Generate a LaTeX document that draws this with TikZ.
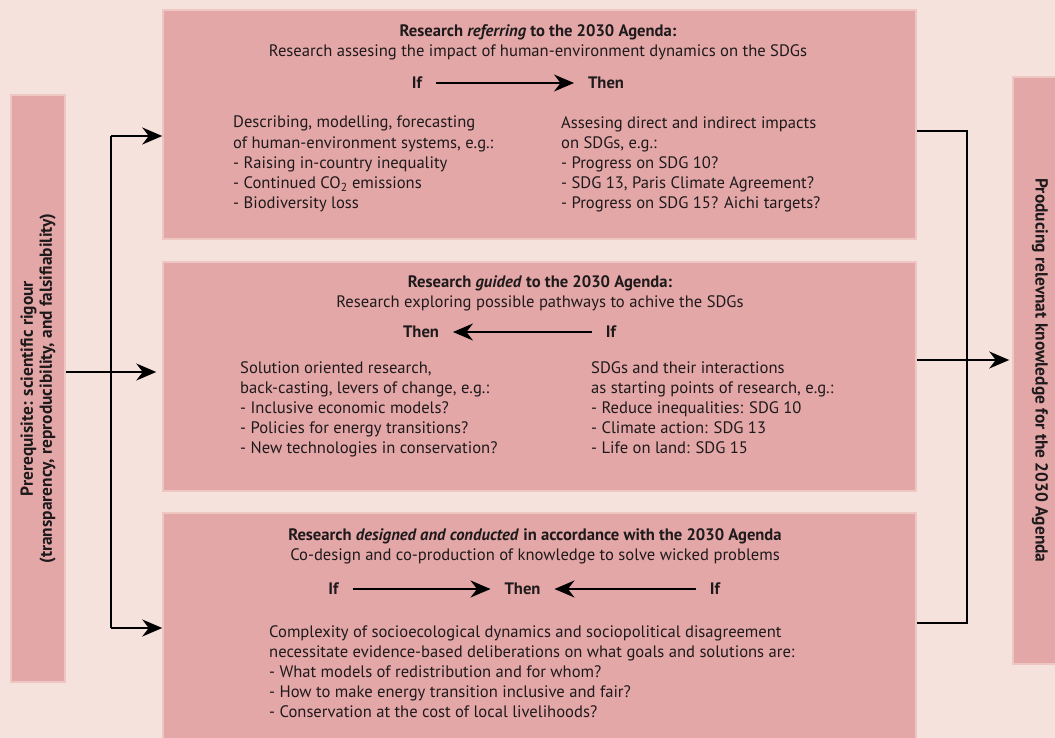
\documentclass[tikz,border=0pt]{standalone}
\usepackage{fontspec}
\setmainfont{PT Sans}
\usetikzlibrary{arrows.meta}

\definecolor{bgpink}{RGB}{245,226,220}
\definecolor{boxpink}{RGB}{228,167,168}
\definecolor{rimpink}{RGB}{238,198,194}
\definecolor{ink}{RGB}{30,26,27}

% Font used in all the boxes
\newcommand{\boxfont}{\fontsize{16.6}{20.2}\selectfont}
\newcommand{\sidefont}{\fontsize{17.4}{19}\selectfont}

\begin{document}
\begin{tikzpicture}[x=1pt, y=-1pt,
    every node/.style={text=ink, font=\boxfont},
    resbox/.style={rectangle, fill=boxpink, draw=rimpink, line width=1.5pt, inner sep=0pt},
    sidebox/.style={resbox, align=center, font={\sidefont\bfseries}},
    head/.style={align=center, inner sep=0pt},
    col/.style={anchor=north west, align=left, inner sep=0pt},
    cue/.style={inner sep=0pt, outer sep=14pt, font={\boxfont\bfseries}},
    flow/.style={line width=1.6pt, -{Stealth[length=20pt, width=17pt]}},
    link/.style={line width=1.6pt}]

        % Background and page size
        \useasboundingbox (0,0) rectangle (1055,738);
        \fill[bgpink] (0,0) rectangle (1055,738);

        % Draw the three research boxes
        \node[resbox, minimum width=753pt, minimum height=229pt] (box1) at (539.5,124.5) {};
        \node[resbox, minimum width=753pt, minimum height=229pt] (box2) at (539.5,376.5) {};
        \node[resbox, minimum width=753pt, minimum height=235pt] (box3) at (539.5,630.5) {};

        % Draw the side boxes
        \node[sidebox, rotate=90, minimum width=587pt, minimum height=54pt] (pre) at (38,388.5)
          {Prerequisite: scientific rigour\\(transparency, reproducibility, and falsifiability)};
        \node[sidebox, rotate=-90, minimum width=587pt, minimum height=54pt] (out) at (1040,370.5)
          {Producing relevnat knowledge for the 2030 Agenda};

        % Box 1: referring
        \node[head] (head1) at (538,42.5)
          {\textbf{Research \textit{referring} to the 2030 Agenda:}\\Research assesing the impact of human-environment dynamics on the SDGs};
        \node[cue] (if1) at (417,83) {If};
        \node[cue] (then1) at (606,83) {Then};
        \draw[flow] (if1) -- (then1);
        \node[col] (left1) at (233,116)
          {Describing, modelling, forecasting\\of human-environment systems, e.g.:\\- Raising in-country inequality\\- Continued CO\textsubscript{2} emissions\\- Biodiversity loss};
        \node[col] (right1) at (561,116)
          {Assesing direct and indirect impacts\\on SDGs, e.g.:\\- Progress on SDG 10?\\- SDG 13, Paris Climate Agreement?\\- Progress on SDG 15? Aichi targets?};

        % Box 2: guided
        \node[head] (head2) at (540,293)
          {\textbf{Research \textit{guided} to the 2030 Agenda:}\\Research exploring possible pathways to achive the SDGs};
        \node[cue] (then2) at (421,332) {Then};
        \node[cue] (if2) at (611,332) {If};
        \draw[flow] (if2) -- (then2);
        \node[col] (left2) at (240,361)
          {Solution oriented research,\\back-casting, levers of change, e.g.:\\- Inclusive economic models?\\- Policies for energy transitions?\\- New technologies in conservation?};
        \node[col] (right2) at (591,361)
          {SDGs and their interactions\\as starting points of research, e.g.:\\- Reduce inequalities: SDG 10\\- Climate action: SDG 13\\- Life on land: SDG 15};

        % Box 3: designed and conducted
        \node[head] (head3) at (535,546)
          {\textbf{Research \textit{designed and conducted} in accordance with the 2030 Agenda}\\Co-design and co-production of knowledge to solve wicked problems};
        \node[cue] (if3a) at (333.5,589) {If};
        \node[cue] (then3) at (522.5,589) {Then};
        \node[cue] (if3b) at (715,589) {If};
        \draw[flow] (if3a) -- (then3);
        \draw[flow] (if3b) -- (then3);
        \node[col] (text3) at (269,625)
          {Complexity of socioecological dynamics and sociopolitical disagreement\\necessitate evidence-based deliberations on what goals and solutions are:\\- What models of redistribution and for whom?\\- How to make energy transition inclusive and fair?\\- Conservation at the cost of local livelihoods?};

        % Connectors on the left
        \coordinate (ltop) at (111,136);
        \coordinate (lmid) at (111,372);
        \coordinate (lbot) at (111,628);
        \draw[link] (ltop) -- (lbot);
        \draw[flow] (ltop) -- (ltop -| box1.west);
        \draw[flow] (lbot) -- (lbot -| box3.west);
        \draw[flow, shorten >=6pt] (pre.south |- lmid) -- (lmid -| box2.west);

        % Connectors on the right
        \coordinate (rtop) at (967,131);
        \coordinate (rmid) at (967,360);
        \coordinate (rbot) at (967,623);
        \draw[link] (rtop -| box1.east) -- (rtop) -- (rbot) -- (rbot -| box3.east);
        \draw[flow, shorten >=3pt] (rmid -| box2.east) -- (rmid -| out.south);
\end{tikzpicture}
\end{document}
